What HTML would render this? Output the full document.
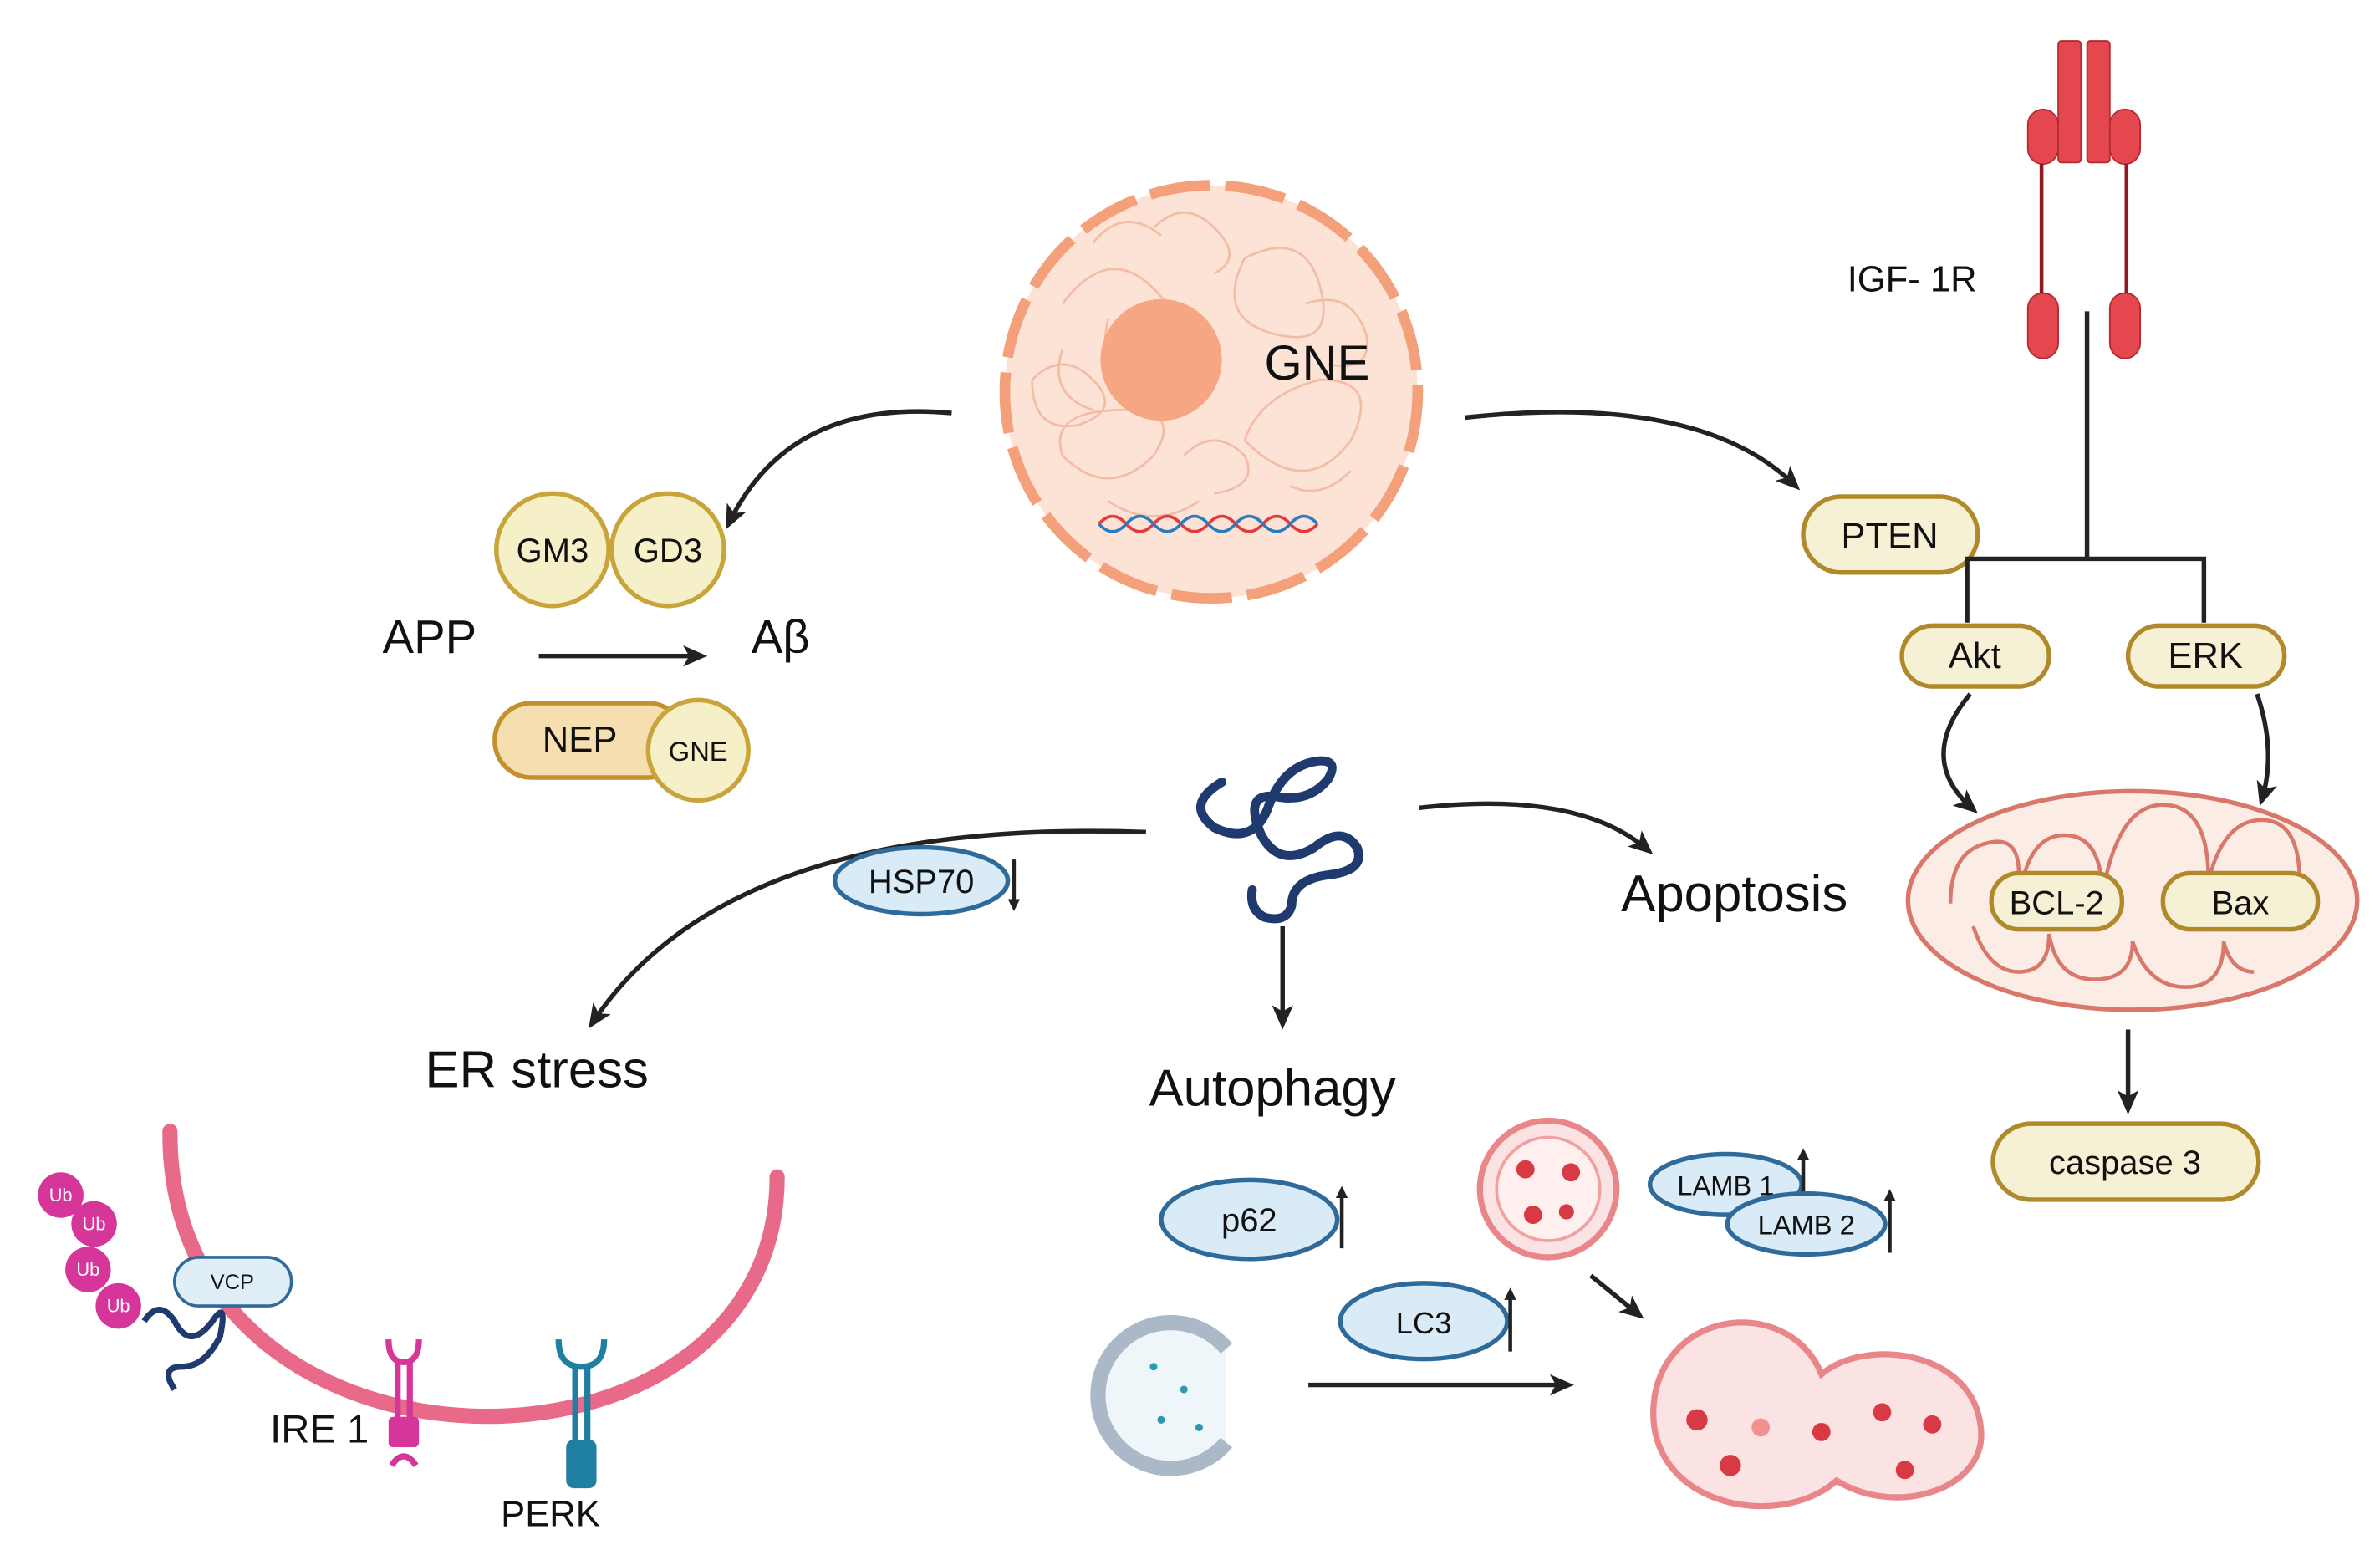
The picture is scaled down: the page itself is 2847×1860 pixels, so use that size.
<!DOCTYPE html>
<html><head><meta charset="utf-8"><style>html,body{margin:0;padding:0;background:#fff}svg{display:block}text{font-family:"Liberation Sans",sans-serif;fill:#111}</style></head><body>
<svg width="2847" height="1860" viewBox="0 0 1568 1024" preserveAspectRatio="none" xmlns="http://www.w3.org/2000/svg">
<defs><marker id="a" markerWidth="8" markerHeight="8" refX="6" refY="4" orient="auto" markerUnits="userSpaceOnUse"><path d="M0,0 L8,4 L0,8 z" fill="#222"/></marker>
<marker id="b" markerWidth="16" markerHeight="14" refX="12" refY="7" orient="auto" markerUnits="userSpaceOnUse"><path d="M0,0 L16,7 L0,14 L4,7z" fill="#222"/></marker></defs>
<rect width="1568" height="1024" fill="#fff"/>
<!-- nucleus -->
<circle cx="798" cy="258" r="136" fill="#fde2d6" stroke="#f4a07a" stroke-width="7" stroke-dasharray="40 10"/>
<g fill="none" stroke="#f3b8a0" stroke-width="1.5" opacity="0.9">
<path d="M700,200 q30,-40 60,-10 q30,30 0,50 q-40,20 -30,-30 M820,170 q40,-20 50,20 q10,40 -30,30 q-40,-10 -20,-50 M700,300 q30,30 60,0 q20,-30 -20,-30 q-50,0 -40,30 M820,290 q40,40 70,0 q20,-40 -20,-40 q-40,10 -50,40 M760,150 q20,-20 40,0 q20,20 0,30 M730,330 q30,20 60,0"/>
<path d="M680,250 q20,-20 40,0 q20,20 -10,30 q-30,5 -30,-30 M860,200 q30,-10 40,20 q5,25 -25,20 M780,300 q20,-20 40,0 q10,20 -20,25 M720,160 q20,-25 45,-5 M850,320 q20,10 40,-10 M700,230 q-10,30 20,40"/>
</g>
<circle cx="765" cy="237" r="40" fill="#f7a684"/>
<text x="833" y="250" font-size="32">GNE</text>
<path d="M724,345 q9,-10 18,0 t18,0 t18,0 t18,0 t18,0 t18,0 t18,0 t18,0" stroke="#e23b3b" stroke-width="2" fill="none"/>
<path d="M724,345 q9,10 18,0 t18,0 t18,0 t18,0 t18,0 t18,0 t18,0 t18,0" stroke="#2a7bc0" stroke-width="2" fill="none"/>
<!-- left branch -->
<path d="M627,272 Q520,262 480,345" stroke="#222" stroke-width="3" fill="none" marker-end="url(#b)"/>
<circle cx="364" cy="362" r="37" fill="#f6f0c8" stroke="#c9a43a" stroke-width="3"/>
<circle cx="440" cy="362" r="37" fill="#f6f0c8" stroke="#c9a43a" stroke-width="3"/>
<text x="364" y="370" font-size="22" text-anchor="middle">GM3</text>
<text x="440" y="370" font-size="22" text-anchor="middle">GD3</text>
<text x="252" y="430" font-size="31">APP</text>
<text x="495" y="430" font-size="31">Aβ</text>
<path d="M355,432 L462,432" stroke="#222" stroke-width="3" marker-end="url(#b)"/>
<rect x="326" y="463" width="125" height="49" rx="24" fill="#f5deb0" stroke="#c4902e" stroke-width="3"/>
<text x="382" y="495" font-size="24" text-anchor="middle">NEP</text>
<circle cx="460" cy="494" r="33" fill="#f6f0c8" stroke="#c9a43a" stroke-width="3"/>
<text x="460" y="501" font-size="18" text-anchor="middle">GNE</text>
<!-- right branch -->
<path d="M965,275 Q1120,258 1183,320" stroke="#222" stroke-width="3" fill="none" marker-end="url(#b)"/>
<rect x="1188" y="327" width="115" height="50" rx="25" fill="#f6f0d4" stroke="#b08a2a" stroke-width="3"/>
<text x="1245" y="361" font-size="24" text-anchor="middle">PTEN</text>
<g fill="#e5474f" stroke="#b52a32" stroke-width="1">
<rect x="1356" y="27" width="15" height="80" rx="2"/><rect x="1375" y="27" width="15" height="80" rx="2"/>
<rect x="1336" y="72" width="20" height="36" rx="10"/><rect x="1390" y="72" width="20" height="36" rx="10"/>
<rect x="1336" y="193" width="20" height="43" rx="10"/><rect x="1390" y="193" width="20" height="43" rx="10"/>
</g>
<path d="M1345,108 V193 M1401,108 V193" stroke="#8e1a22" stroke-width="2.5"/>
<text x="1217" y="192" font-size="24">IGF- 1R</text>
<path d="M1375,205 V368 M1296,410 V368 H1452 V410" stroke="#222" stroke-width="3" fill="none"/>
<rect x="1253" y="412" width="97" height="40" rx="20" fill="#f6f0d4" stroke="#b08a2a" stroke-width="3"/>
<text x="1301" y="440" font-size="24" text-anchor="middle">Akt</text>
<rect x="1402" y="412" width="103" height="40" rx="20" fill="#f6f0d4" stroke="#b08a2a" stroke-width="3"/>
<text x="1453" y="440" font-size="24" text-anchor="middle">ERK</text>
<path d="M1298,457 Q1262,500 1300,533" stroke="#222" stroke-width="3" fill="none" marker-end="url(#b)"/>
<path d="M1487,457 Q1500,495 1490,527" stroke="#222" stroke-width="3" fill="none" marker-end="url(#b)"/>
<!-- mitochondrion -->
<ellipse cx="1405" cy="593" rx="148" ry="72" fill="#fcece6" stroke="#d9786a" stroke-width="3"/>
<path d="M1285,595 q0,-35 25,-40 q20,-5 20,20 v20 q5,-45 30,-45 q25,0 25,40 q10,-60 40,-60 q30,0 30,50 q10,-40 35,-40 q25,0 25,40 M1300,610 q10,30 30,30 q20,0 20,-25 q5,30 30,30 q25,0 25,-25 q10,30 35,30 q25,0 25,-30 q5,20 20,20" stroke="#d9786a" stroke-width="2.5" fill="none"/>
<rect x="1312" y="575" width="86" height="37" rx="18" fill="#f6f0d4" stroke="#b08a2a" stroke-width="3"/>
<text x="1355" y="602" font-size="22" text-anchor="middle">BCL-2</text>
<rect x="1425" y="575" width="102" height="37" rx="18" fill="#f6f0d4" stroke="#b08a2a" stroke-width="3"/>
<text x="1476" y="602" font-size="22" text-anchor="middle">Bax</text>
<path d="M1402,678 V730" stroke="#222" stroke-width="3" marker-end="url(#b)"/>
<rect x="1313" y="740" width="175" height="50" rx="25" fill="#f6f0d4" stroke="#b08a2a" stroke-width="3"/>
<text x="1400" y="773" font-size="22" text-anchor="middle">caspase 3</text>
<!-- protein -->
<path d="M805,515 q-25,15 -5,30 q25,12 35,-12 q10,-30 35,-32 q12,0 5,12 q-12,15 -32,12 q-25,-5 -12,25 q12,22 35,8 q18,-15 28,0 q6,15 -18,18 q-25,3 -25,20 q-3,12 -18,8 q-10,-5 -8,-18" stroke="#1f3a6e" stroke-width="6" fill="none" stroke-linecap="round"/>
<path d="M935,532 Q1040,520 1086,560" stroke="#222" stroke-width="3" fill="none" marker-end="url(#b)"/>
<text x="1068" y="600" font-size="34">Apoptosis</text>
<path d="M845,610 V674" stroke="#222" stroke-width="3" marker-end="url(#b)"/>
<text x="757" y="728" font-size="34">Autophagy</text>
<path d="M755,548 Q480,538 390,674" stroke="#222" stroke-width="3" fill="none" marker-end="url(#b)"/>
<ellipse cx="607" cy="580" rx="57" ry="22" fill="#d9ebf7" stroke="#2e6a9a" stroke-width="3"/>
<text x="607" y="588" font-size="22" text-anchor="middle">HSP70</text>
<path d="M668,566 V598" stroke="#222" stroke-width="2.5" marker-end="url(#a)"/>
<text x="280" y="716" font-size="34">ER stress</text>
<!-- ER -->
<path d="M112,745 C110,990 512,990 512,775" stroke="#e86a88" stroke-width="10" fill="none" stroke-linecap="round"/>
<g fill="#d6359a"><circle cx="40" cy="787" r="15"/><circle cx="62" cy="806" r="15"/><circle cx="58" cy="836" r="15"/><circle cx="78" cy="860" r="15"/></g>
<g font-size="12" text-anchor="middle"><text x="40" y="791" style="fill:#fff">Ub</text><text x="62" y="810" style="fill:#fff">Ub</text><text x="58" y="840" style="fill:#fff">Ub</text><text x="78" y="864" style="fill:#fff">Ub</text></g>
<path d="M95,870 q10,-15 20,0 q10,20 25,0 q10,-15 5,10 q-10,20 -25,20 q-15,0 -5,15" stroke="#1f3a6e" stroke-width="4" fill="none"/>
<rect x="115" y="828" width="77" height="32" rx="16" fill="#e0eef8" stroke="#2e6a9a" stroke-width="2"/>
<text x="153" y="849" font-size="14" text-anchor="middle">VCP</text>
<g stroke="#d6359a" stroke-width="4" fill="none"><path d="M256,882 q0,15 10,15 q10,0 10,-15"/><path d="M262,897 V935 M270,897 V935"/></g>
<rect x="256" y="933" width="20" height="20" rx="3" fill="#d6359a"/><path d="M258,965 q8,-12 16,0" stroke="#d6359a" stroke-width="4" fill="none"/>
<text x="178" y="950" font-size="26">IRE 1</text>
<g stroke="#1f7fa0" stroke-width="4" fill="none"><path d="M368,882 q0,18 15,18 q15,0 15,-18"/><path d="M379,900 V950 M387,900 V950"/></g>
<rect x="373" y="948" width="20" height="32" rx="5" fill="#1f7fa0"/>
<text x="330" y="1005" font-size="24">PERK</text>
<!-- autophagy items -->
<ellipse cx="823" cy="803" rx="58" ry="26" fill="#d9ebf7" stroke="#2e6a9a" stroke-width="3"/>
<text x="823" y="811" font-size="22" text-anchor="middle">p62</text>
<path d="M884,822 V783" stroke="#222" stroke-width="2.5" marker-end="url(#a)"/>
<ellipse cx="938" cy="870" rx="55" ry="25" fill="#d9ebf7" stroke="#2e6a9a" stroke-width="3"/>
<text x="938" y="878" font-size="20" text-anchor="middle">LC3</text>
<path d="M995,890 V850" stroke="#222" stroke-width="2.5" marker-end="url(#a)"/>
<circle cx="1020" cy="783" r="45" fill="#fbe3e3" stroke="#e8868a" stroke-width="4"/>
<circle cx="1020" cy="783" r="34" fill="#fff0ef" stroke="#f0a0a0" stroke-width="2"/>
<g fill="#d83a44"><circle cx="1005" cy="770" r="6"/><circle cx="1035" cy="772" r="6"/><circle cx="1010" cy="800" r="6"/><circle cx="1032" cy="798" r="5"/></g>
<ellipse cx="1137" cy="780" rx="50" ry="20" fill="#d9ebf7" stroke="#2e6a9a" stroke-width="3"/>
<text x="1137" y="787" font-size="18" text-anchor="middle">LAMB 1</text>
<path d="M1188,795 V758" stroke="#222" stroke-width="2.5" marker-end="url(#a)"/>
<ellipse cx="1190" cy="806" rx="52" ry="20" fill="#d9ebf7" stroke="#2e6a9a" stroke-width="3"/>
<text x="1190" y="813" font-size="18" text-anchor="middle">LAMB 2</text>
<path d="M1245,825 V785" stroke="#222" stroke-width="2.5" marker-end="url(#a)"/>
<path d="M1048,840 L1080,866" stroke="#222" stroke-width="3" marker-end="url(#b)"/>
<path d="M808,888 A48,48 0 1 0 808,950" stroke="#aab8c8" stroke-width="10" fill="#eef6fa"/>
<g fill="#2a9ab0"><circle cx="760" cy="900" r="2.5"/><circle cx="780" cy="915" r="2.5"/><circle cx="765" cy="935" r="2.5"/><circle cx="790" cy="940" r="2.5"/></g>
<path d="M862,912 L1033,912" stroke="#222" stroke-width="3" marker-end="url(#b)"/>
<path d="M1200,905 C1180,855 1100,860 1090,920 C1080,990 1170,1010 1210,975 C1250,1000 1310,980 1305,940 C1300,890 1230,880 1200,905 Z" fill="#fbe3e3" stroke="#e8868a" stroke-width="4"/>
<g fill="#d83a44"><circle cx="1118" cy="935" r="7"/><circle cx="1140" cy="965" r="7"/><circle cx="1200" cy="943" r="6"/><circle cx="1240" cy="930" r="6"/><circle cx="1255" cy="968" r="6"/><circle cx="1273" cy="938" r="6"/><circle cx="1160" cy="940" r="6" fill="#f09090"/></g>
</svg>
</body></html>
